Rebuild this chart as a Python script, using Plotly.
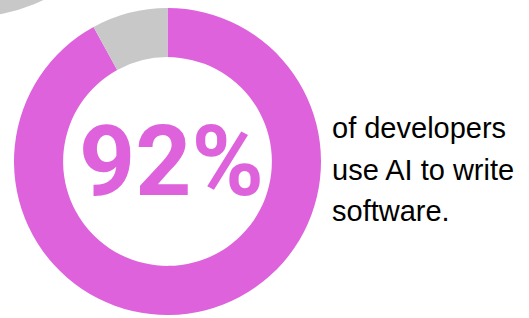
import plotly.graph_objects as go

labels = ["Use AI", "Do not use AI"]
values = [92, 8]
colors = ["#DD62DB", "#C8C8C8"]
big_label = "92%"
caption_lines = ["of developers", "use AI to write", "software."]

W, H = 529, 318
cx, cy, r = 167.5, 161.5, 153.5

fig = go.Figure()
fig.add_trace(go.Pie(
    labels=labels, values=values, sort=False, direction="clockwise", rotation=0,
    hole=0.68, marker=dict(colors=colors, line=dict(width=0)),
    textinfo="none", hoverinfo="label+percent", showlegend=False,
    domain=dict(x=[(cx - r) / W, (cx + r) / W], y=[max(0, (H - cy - r) / H), min(1, (H - cy + r) / H)]),
))

# decorative grey disc partially visible at top-left
gx, gy, gr = -30, -150, 167
fig.add_shape(type="circle", xref="x", yref="y", x0=gx - gr, y0=gy - gr,
              x1=gx + gr, y1=gy + gr, fillcolor="#C8C8C8", line=dict(width=0), layer="below")

fig.add_annotation(x=171, y=161, xref="x", yref="y", text=big_label, showarrow=False,
                   font=dict(family="Roboto, Liberation Sans, Arial", size=98, color="#DD62DB", weight="bold"),
                   xanchor="center", yanchor="middle")

ys = [128, 170, 211]
for line, yy in zip(caption_lines, ys):
    fig.add_annotation(x=330, y=yy, xref="x", yref="y", text=line, showarrow=False,
                       font=dict(family="Liberation Sans, Arial", size=29, color="#000000"),
                       xanchor="left", yanchor="middle")

fig.update_layout(
    width=W, height=H, margin=dict(l=0, r=0, t=0, b=0),
    paper_bgcolor="white", plot_bgcolor="rgba(0,0,0,0)",
    xaxis=dict(range=[0, W], visible=False, fixedrange=True),
    yaxis=dict(range=[H, 0], visible=False, fixedrange=True),
)
fig.write_html("out.html", config={"displayModeBar": False},
               post_script="document.body.style.margin='0';")
